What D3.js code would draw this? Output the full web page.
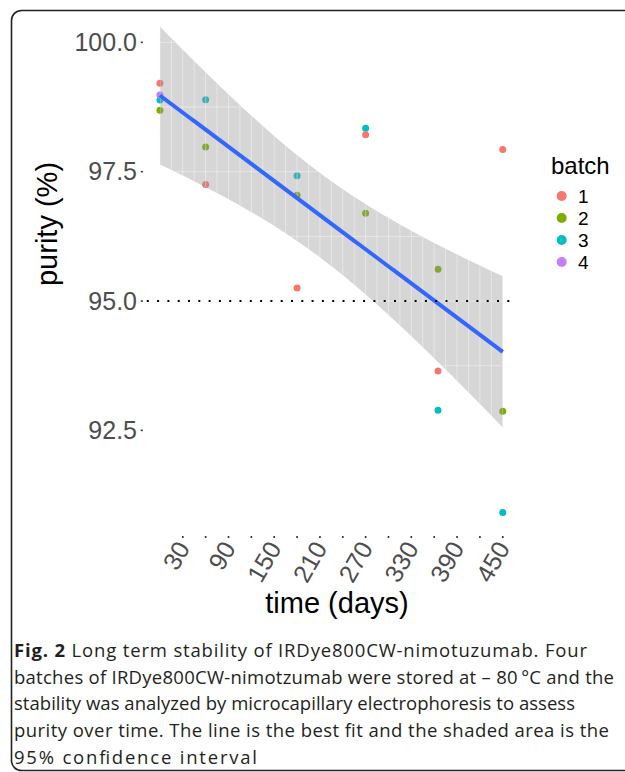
<!DOCTYPE html>
<html>
<head>
<meta charset="utf-8">
<script src="https://cdn.jsdelivr.net/npm/d3@7"></script>
<style>
  body { margin: 0; background: #fff; }
  svg { display: block; }
</style>
</head>
<body>
<div id="chart"></div>
<script>
// sampling days and purity (%) per batch
var days = [0, 60, 180, 270, 365, 450];
var batch1 = [99.21, 97.25, 95.25, 98.215, 93.65, 97.93];
var batch2 = [98.686, 97.977, 97.044, 96.696, 95.614, 92.871];
var batch3 = [98.885, 98.89, 97.423, 98.338, 92.89, 90.912];
var batch4 = [98.98, null, null, null, null, null];

var batchNames = ["1", "2", "3", "4"];
var batchColors = ["#F8766D", "#7CAE00", "#00BFC4", "#C77CFF"];

var yTicks = [92.5, 95.0, 97.5, 100.0];
var xTicks = [30, 60, 90, 120, 150, 180, 210, 240, 270, 300, 330, 360, 390, 420, 450];
var xTickLabels = ["30", "", "90", "", "150", "", "210", "", "270", "", "330", "", "390", "", "450"];
var limitLine = 95;
var tCrit = 2.1098; // t(0.975, df = 17)

var caption = [
  [{b: "Fig. 2"}, " Long term stability of IRDye800CW-nimotuzumab. Four"],
  ["batches of IRDye800CW-nimotzumab were stored at \u2013 80\u2009\u00b0C and the"],
  ["stability was analyzed by microcapillary electrophoresis to assess"],
  ["purity over time. The line is the best fit and the shaded area is the"],
  ["95% confidence interval"]
];

var W = 625, H = 772;
var svg = d3.select("#chart").append("svg")
    .attr("width", W)
    .attr("height", H);

// flatten into points
var points = [];
[batch1, batch2, batch3, batch4].forEach(function(vals, b) {
  vals.forEach(function(v, i) {
    if (v != null) points.push({day: days[i], purity: v, batch: b});
  });
});

var x = d3.scaleLinear().domain([-22.5, 472.5]).range([142.8, 519.9]);
var y = d3.scaleLinear().domain([90.44, 100.76]).range([537, 3]);

// linear fit + 95% CI
var n = points.length;
var mx = d3.mean(points, function(d) { return d.day; });
var my = d3.mean(points, function(d) { return d.purity; });
var sxx = d3.sum(points, function(d) { return (d.day - mx) * (d.day - mx); });
var sxy = d3.sum(points, function(d) { return (d.day - mx) * (d.purity - my); });
var slope = sxy / sxx, icpt = my - slope * mx;
var sse = d3.sum(points, function(d) { var r = d.purity - (icpt + slope * d.day); return r * r; });
var se = Math.sqrt(sse / (n - 2));
var fit = d3.range(0, 80).map(function(i) {
  var xv = d3.min(days) + i * (d3.max(days) - d3.min(days)) / 79;
  var yv = icpt + slope * xv;
  var hw = tCrit * se * Math.sqrt(1 / n + (xv - mx) * (xv - mx) / sxx);
  return {day: xv, fit: yv, lo: yv - hw, hi: yv + hw};
});

// frame
svg.append("rect")
    .attr("x", 11.5).attr("y", 10.5)
    .attr("width", 650).attr("height", 760)
    .attr("rx", 10)
    .attr("fill", "none")
    .attr("stroke", "#222")
    .attr("stroke-width", 1.6);

// points (under the ribbon)
svg.append("g").selectAll("circle")
    .data(points)
  .enter().append("circle")
    .attr("cx", function(d) { return x(d.day); })
    .attr("cy", function(d) { return y(d.purity); })
    .attr("r", 3.5)
    .attr("fill", function(d) { return batchColors[d.batch]; });

var area = d3.area()
    .x(function(d) { return x(d.day); })
    .y0(function(d) { return y(d.lo); })
    .y1(function(d) { return y(d.hi); });

svg.append("path")
    .datum(fit)
    .attr("d", area)
    .attr("fill", "rgb(153,153,153)")
    .attr("fill-opacity", 0.4);

// grid only shows through the ribbon
svg.append("clipPath").attr("id", "band")
  .append("path").datum(fit).attr("d", area);

var grid = svg.append("g").attr("clip-path", "url(#band)")
    .attr("stroke", "#fff")
    .attr("stroke-opacity", 0.4)
    .attr("stroke-width", 1);
grid.selectAll("line.v")
    .data(d3.range(0, 480, 15))
  .enter().append("line")
    .attr("class", "v")
    .attr("x1", function(d) { return x(d); })
    .attr("x2", function(d) { return x(d); })
    .attr("y1", y.range()[1]).attr("y2", y.range()[0]);
grid.selectAll("line.h")
    .data(d3.range(91.25, 100.5, 1.25))
  .enter().append("line")
    .attr("class", "h")
    .attr("y1", function(d) { return y(d); })
    .attr("y2", function(d) { return y(d); })
    .attr("x1", x.range()[0]).attr("x2", x.range()[1]);

svg.append("path")
    .datum(fit)
    .attr("d", d3.line()
      .x(function(d) { return x(d.day); })
      .y(function(d) { return y(d.fit); }))
    .attr("fill", "none")
    .attr("stroke", "#3366FF")
    .attr("stroke-width", 4);

// 95% limit
svg.append("line")
    .attr("x1", x.range()[0] + 4).attr("x2", x.range()[1] - 7)
    .attr("y1", y(limitLine)).attr("y2", y(limitLine))
    .attr("stroke", "#000")
    .attr("stroke-width", 2)
    .attr("stroke-dasharray", "2,8.3");

// y axis
var yAx = svg.append("g");
yAx.selectAll("line")
    .data(yTicks)
  .enter().append("line")
    .attr("x1", 140.8).attr("x2", 142.8)
    .attr("y1", function(d) { return y(d); })
    .attr("y2", function(d) { return y(d); })
    .attr("stroke", "#333").attr("stroke-width", 1.6);
yAx.selectAll("text")
    .data(yTicks)
  .enter().append("text")
    .attr("x", 137)
    .attr("y", function(d) { return y(d); })
    .attr("dy", "0.35em")
    .attr("text-anchor", "end")
    .attr("font-family", "Liberation Sans, Arial, sans-serif")
    .attr("font-size", 25)
    .attr("fill", "#4d4d4d")
    .text(function(d) { return d3.format(".1f")(d); });

// x axis
var xAx = svg.append("g");
xAx.selectAll("line")
    .data(xTicks)
  .enter().append("line")
    .attr("x1", function(d) { return x(d); })
    .attr("x2", function(d) { return x(d); })
    .attr("y1", 536).attr("y2", 538)
    .attr("stroke", "#333").attr("stroke-width", 1.6);
xAx.selectAll("text")
    .data(xTicks)
  .enter().append("text")
    .attr("transform", function(d) { return "translate(" + (x(d) + 8) + ",548) rotate(-60)"; })
    .attr("text-anchor", "end")
    .attr("font-family", "Liberation Sans, Arial, sans-serif")
    .attr("font-size", 25)
    .attr("fill", "#4d4d4d")
    .text(function(d, i) { return xTickLabels[i]; });

// axis titles
svg.append("text")
    .attr("x", 337).attr("y", 613)
    .attr("text-anchor", "middle")
    .attr("font-family", "Liberation Sans, Arial, sans-serif")
    .attr("font-size", 29)
    .text("time (days)");
svg.append("text")
    .attr("transform", "translate(57,224) rotate(-90)")
    .attr("text-anchor", "middle")
    .attr("font-family", "Liberation Sans, Arial, sans-serif")
    .attr("font-size", 29)
    .text("purity (%)");

// legend
var leg = svg.append("g");
leg.append("text")
    .attr("x", 551).attr("y", 174)
    .attr("font-family", "Liberation Sans, Arial, sans-serif")
    .attr("font-size", 24)
    .text("batch");
var items = leg.selectAll("g.item")
    .data(batchNames)
  .enter().append("g")
    .attr("class", "item")
    .attr("transform", function(d, i) { return "translate(0," + (196 + i * 22) + ")"; });
items.append("circle")
    .attr("cx", 561.7).attr("r", 5)
    .attr("fill", function(d, i) { return batchColors[i]; });
items.append("text")
    .attr("x", 578).attr("dy", "0.35em")
    .attr("font-family", "Liberation Sans, Arial, sans-serif")
    .attr("font-size", 19)
    .text(function(d) { return d; });

// caption, each line stretched to the width it has in the figure
var lineWidths = [573, 600, 561, 595, 243];
var cap = svg.append("g")
    .attr("font-family", "Open Sans, sans-serif")
    .attr("font-size", 18.5)
    .attr("fill", "#231f20");
caption.forEach(function(parts, i) {
  var t = cap.append("text")
      .attr("x", 14).attr("y", 657 + i * 26.7)
      .attr("textLength", lineWidths[i])
      .attr("lengthAdjust", "spacing");
  parts.forEach(function(p) {
    if (typeof p === "string") t.append("tspan").text(p);
    else t.append("tspan").attr("font-weight", "bold").text(p.b);
  });
});
</script>
</body>
</html>
